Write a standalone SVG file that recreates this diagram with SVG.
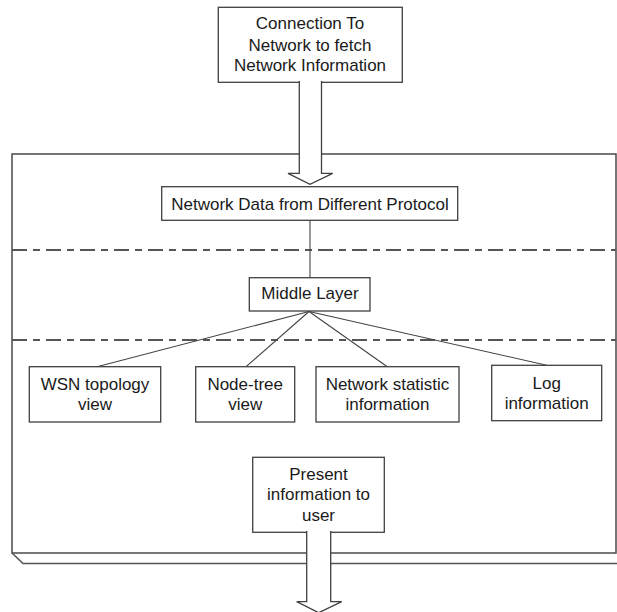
<svg xmlns="http://www.w3.org/2000/svg" width="617" height="612" viewBox="0 0 617 612">
<style>
.box{fill:#fff;stroke:#404040;stroke-width:1.3}
.frame{fill:none;stroke:#555;stroke-width:1.6}
.sep{fill:none;stroke:#555;stroke-width:2;stroke-dasharray:15,6,7,6}
.link{fill:none;stroke:#444;stroke-width:1.1}
.arrow{fill:#fff;stroke:#404040;stroke-width:1.3;stroke-linejoin:miter}
text{font-family:"Liberation Sans",Arial,sans-serif;font-size:17px;fill:#1a1a1a;text-anchor:middle}
</style>
<rect width="617" height="612" fill="#fff"/>
<g id="container">
<rect class="frame" x="12" y="154" width="604" height="399"/>
<path class="frame" d="M12,553 L23,563.5 L617,563.5"/>
<line class="sep" x1="12" y1="250" x2="616" y2="250"/>
<line class="sep" x1="12" y1="340" x2="616" y2="340"/>
</g>
<g id="connection">
<rect class="box" x="218.3" y="7.3" width="184" height="75"/>
<text x="310" y="29.3">Connection To</text>
<text x="310" y="50.5">Network to fetch</text>
<text x="310" y="71">Network Information</text>
</g>
<g id="network-data">
<rect class="box" x="161.7" y="186.7" width="296" height="33.6"/>
<text x="310" y="209.5">Network Data from Different Protocol</text>
</g>
<g id="middle-layer">
<rect class="box" x="249.3" y="277.7" width="120.7" height="33.3"/>
<text x="310" y="299.3">Middle Layer</text>
</g>
<g id="wsn">
<rect class="box" x="29.3" y="366.7" width="131.4" height="55.3"/>
<text x="95" y="389.5">WSN topology</text>
<text x="95" y="409.5">view</text>
</g>
<g id="node-tree">
<rect class="box" x="195.7" y="366.7" width="99" height="55.3"/>
<text x="245.2" y="389.5">Node-tree</text>
<text x="245.2" y="409.5">view</text>
</g>
<g id="net-stat">
<rect class="box" x="316" y="366.7" width="143" height="55.3"/>
<text x="387.5" y="389.5">Network statistic</text>
<text x="387.5" y="409.5">information</text>
</g>
<g id="log">
<rect class="box" x="491.7" y="365.3" width="110" height="55.4"/>
<text x="546.7" y="388.5">Log</text>
<text x="546.7" y="408.5">information</text>
</g>
<g id="present">
<rect class="box" x="252.7" y="457.3" width="131.6" height="75"/>
<text x="318.5" y="479.5">Present</text>
<text x="318.5" y="500">information to</text>
<text x="318.5" y="520.5">user</text>
</g>
<g id="connectors">
<line class="link" x1="310" y1="220.3" x2="310" y2="277.7"/>
<line class="link" x1="309" y1="311.5" x2="97" y2="366.7"/>
<line class="link" x1="309" y1="311.5" x2="246" y2="366.7"/>
<line class="link" x1="309" y1="311.5" x2="387.3" y2="366.7"/>
<line class="link" x1="309" y1="311.5" x2="546.7" y2="365.3"/>
<path class="arrow" d="M299.3,81 L299.3,173.3 L288,173.3 L310,184.3 L332.7,173.3 L321.5,173.3 L321.5,81"/>
<path class="arrow" d="M306.7,531 L306.7,601.7 L296.7,601.7 L318.7,612.7 L341.7,601.7 L330.7,601.7 L330.7,531"/>
</g>
</svg>
